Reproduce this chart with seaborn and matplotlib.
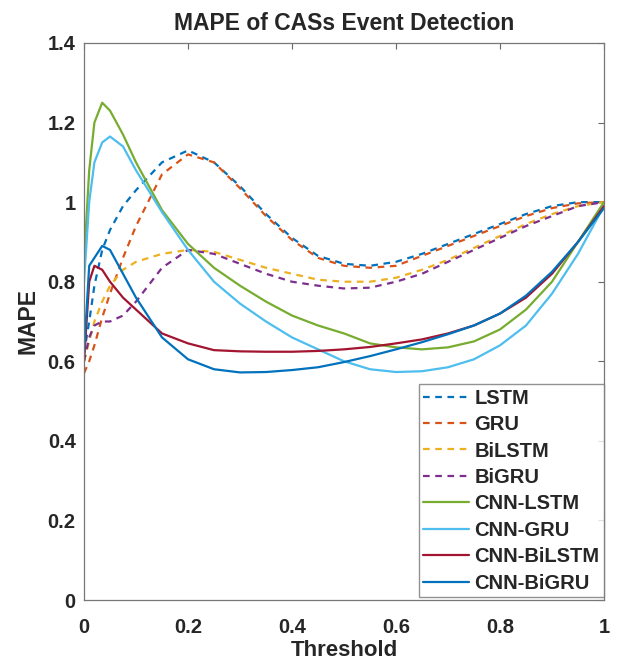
import pandas as pd
import matplotlib
matplotlib.use('Agg')
import matplotlib.pyplot as plt
import seaborn as sns

# Umbrales (eje x)
threshold = [0, 0.01, 0.02, 0.035, 0.05, 0.075, 0.1, 0.15, 0.2, 0.25, 0.3, 0.35, 0.4,
             0.45, 0.5, 0.55, 0.6, 0.65, 0.7, 0.75, 0.8, 0.85, 0.9, 0.95, 1.0]

# MAPE de cada modelo
lstm = [0.62, 0.70, 0.79, 0.88, 0.93, 0.99, 1.03, 1.10, 1.13, 1.10, 1.04, 0.97, 0.91,
        0.865, 0.845, 0.84, 0.85, 0.87, 0.895, 0.92, 0.945, 0.97, 0.99, 1.0, 1.0]
gru = [0.57, 0.60, 0.64, 0.71, 0.77, 0.86, 0.94, 1.07, 1.12, 1.10, 1.035, 0.965, 0.905,
       0.86, 0.84, 0.835, 0.84, 0.865, 0.89, 0.915, 0.94, 0.965, 0.985, 0.997, 1.0]
bilstm = [0.60, 0.65, 0.70, 0.75, 0.79, 0.83, 0.85, 0.87, 0.88, 0.875, 0.855, 0.835, 0.82,
          0.805, 0.80, 0.80, 0.81, 0.83, 0.855, 0.885, 0.915, 0.945, 0.97, 0.99, 1.0]
bigru = [0.60, 0.66, 0.69, 0.70, 0.70, 0.715, 0.75, 0.835, 0.88, 0.87, 0.845, 0.82, 0.80,
         0.79, 0.783, 0.785, 0.80, 0.82, 0.85, 0.88, 0.91, 0.94, 0.965, 0.99, 1.0]
cnn_lstm = [0.85, 1.08, 1.20, 1.25, 1.23, 1.17, 1.10, 0.98, 0.895, 0.835, 0.79, 0.75, 0.715,
            0.69, 0.67, 0.645, 0.635, 0.63, 0.635, 0.65, 0.68, 0.73, 0.80, 0.90, 1.0]
cnn_gru = [0.80, 1.00, 1.10, 1.15, 1.165, 1.14, 1.08, 0.975, 0.88, 0.80, 0.745, 0.70, 0.66,
           0.63, 0.60, 0.58, 0.573, 0.575, 0.585, 0.605, 0.64, 0.69, 0.77, 0.87, 0.99]
cnn_bilstm = [0.60, 0.80, 0.84, 0.83, 0.80, 0.76, 0.73, 0.67, 0.645, 0.628, 0.625, 0.624, 0.624,
              0.626, 0.63, 0.636, 0.645, 0.655, 0.67, 0.69, 0.72, 0.76, 0.82, 0.90, 0.99]
cnn_bigru = [0.62, 0.84, 0.86, 0.89, 0.88, 0.82, 0.76, 0.66, 0.605, 0.58, 0.572, 0.573, 0.578,
             0.585, 0.598, 0.613, 0.63, 0.648, 0.668, 0.69, 0.72, 0.765, 0.825, 0.90, 0.985]

modelos = ["LSTM", "GRU", "BiLSTM", "BiGRU", "CNN-LSTM", "CNN-GRU", "CNN-BiLSTM", "CNN-BiGRU"]
series = [lstm, gru, bilstm, bigru, cnn_lstm, cnn_gru, cnn_bilstm, cnn_bigru]

colores = {
    "LSTM": (0.0, 0.447, 0.741),
    "GRU": (0.85, 0.325, 0.098),
    "BiLSTM": (0.929, 0.694, 0.125),
    "BiGRU": (0.494, 0.184, 0.556),
    "CNN-LSTM": (0.466, 0.674, 0.188),
    "CNN-GRU": (0.301, 0.745, 0.933),
    "CNN-BiLSTM": (0.635, 0.078, 0.184),
    "CNN-BiGRU": (0.0, 0.447, 0.741),
}
estilos = {m: ((3, 2.5) if i < 4 else "") for i, m in enumerate(modelos)}

# DataFrame en formato largo
filas = []
for m, vals in zip(modelos, series):
    for t, v in zip(threshold, vals):
        filas.append({"Threshold": t, "MAPE": v, "Modelo": m})
df = pd.DataFrame(filas)

sns.set_style("white")
plt.rcParams['font.family'] = ['Liberation Sans', 'DejaVu Sans']
plt.rcParams['font.weight'] = 'bold'

fig = plt.figure(figsize=(6.18, 6.70), dpi=100)
ax = fig.add_axes([84 / 618, 1 - 600 / 670, 520 / 618, 557 / 670])

sns.lineplot(data=df, x="Threshold", y="MAPE", hue="Modelo", style="Modelo",
             hue_order=modelos, style_order=modelos, palette=colores, dashes=estilos,
             estimator=None, sort=False, linewidth=1.6, ax=ax)

ax.set_xlim(0, 1)
ax.set_ylim(0, 1.4)
ax.set_xticks([0, 0.2, 0.4, 0.6, 0.8, 1])
ax.set_xticklabels(["0", "0.2", "0.4", "0.6", "0.8", "1"])
ax.set_yticks([0, 0.2, 0.4, 0.6, 0.8, 1, 1.2, 1.4])
ax.set_yticklabels(["0", "0.2", "0.4", "0.6", "0.8", "1", "1.2", "1.4"])
ax.tick_params(direction='in', top=True, right=True, length=4, width=0.8,
               labelsize=14.5, color='#666666')
ax.tick_params(axis='x', pad=13)
ax.tick_params(axis='y', pad=6)
for s in ax.spines.values():
    s.set_color('#777777')
    s.set_linewidth(0.9)

ax.set_xlabel("Threshold", fontsize=16, fontweight='bold', labelpad=2)
ax.set_ylabel("MAPE", fontsize=16.5, fontweight='bold', labelpad=6)
ax.set_title("MAPE of CASs Event Detection", fontsize=16.5, fontweight='bold', pad=9)

# Leyenda
leg = ax.get_legend()
handles = leg.legend_handles
labels = [t.get_text() for t in leg.get_texts()]
ax.legend(handles, labels, loc='lower right', bbox_to_anchor=(1.0, 0.005),
          borderaxespad=0, fontsize=14.5, frameon=True, fancybox=False,
          edgecolor='#777777', handlelength=2.3, labelspacing=0.37,
          borderpad=0.22, handletextpad=0.25)
for h in ax.get_legend().legend_handles:
    h.set_linewidth(1.6)

plt.savefig("out.png", dpi=100)
